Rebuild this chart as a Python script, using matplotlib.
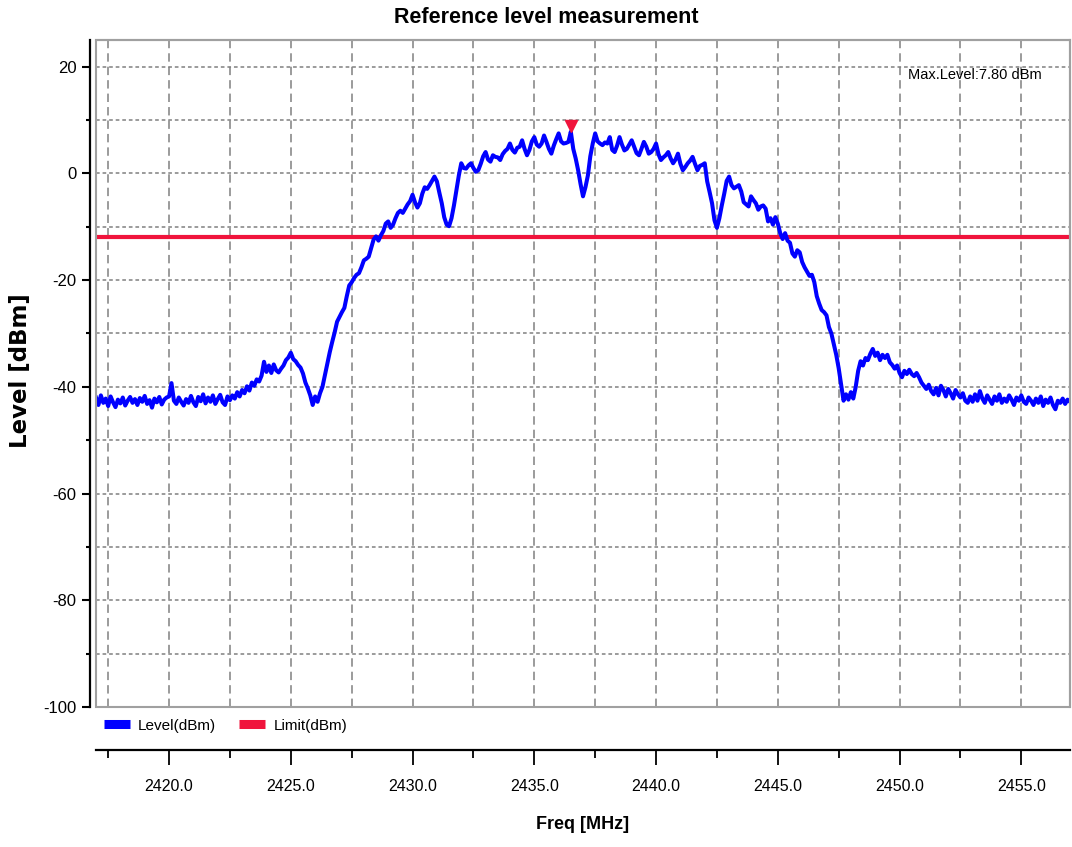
import numpy as np
import matplotlib
matplotlib.use("Agg")
import matplotlib.pyplot as plt
import matplotlib.transforms as mtransforms
from matplotlib.lines import Line2D
from matplotlib.patches import Rectangle
from matplotlib.ticker import MultipleLocator, FormatStrFormatter

plt.rcParams['font.family'] = ['Liberation Sans', 'DejaVu Sans']
plt.rcParams['axes.unicode_minus'] = False

# sweep: 2417.0 MHz .. 2457.0 MHz, 0.1 MHz per point
freq_start = 2417.0
freq_step = 0.1
levels = [
    -42.0, -43.4, -41.6, -43.0, -42.2, -43.6, -41.8, -42.9, -43.8, -42.4,  # 2417
    -43.1, -42.0, -43.5, -42.6, -41.9, -43.0, -42.3, -43.4, -42.1, -42.8,  # 2418
    -41.7, -43.2, -42.5, -43.9, -42.2, -42.9, -41.9, -43.3, -42.4, -42.0,  # 2419
    -41.8, -39.3, -42.6, -43.2, -42.0, -42.8, -43.5, -42.3, -43.0, -41.7,  # 2420
    -42.9, -43.6, -41.9, -42.7, -41.4, -43.1, -42.0, -42.8, -41.6, -43.2,  # 2421
    -42.3, -41.5, -42.9, -43.4, -41.8, -42.5, -41.6, -42.2, -41.0, -41.8,  # 2422
    -40.6, -41.2, -39.9, -40.7, -39.2, -39.8, -38.6, -39.0, -37.9, -35.3,  # 2423
    -37.2, -36.0, -37.4, -35.8, -36.9, -37.3, -36.6, -36.0, -35.0, -34.5,  # 2424
    -33.6, -34.8, -35.2, -35.9, -36.4, -37.5, -39.2, -40.3, -41.6, -43.4,  # 2425
    -41.8, -42.8, -41.2, -40.0, -37.8, -35.6, -33.5, -31.6, -29.8, -27.8,  # 2426
    -26.9, -26.0, -25.2, -23.0, -21.0, -20.4, -19.6, -19.0, -18.7, -17.6,  # 2427
    -16.3, -16.0, -15.6, -14.0, -12.4, -11.8, -12.6, -11.6, -10.8, -9.4,   # 2428
    -9.0, -10.2, -9.6, -8.4, -7.4, -7.0, -7.4, -6.6, -5.8, -5.2,           # 2429
    -4.0, -5.4, -6.4, -5.6, -3.8, -2.6, -2.9, -2.2, -1.4, -0.6,            # 2430
    -1.5, -3.6, -5.6, -8.2, -9.6, -9.9, -8.4, -6.0, -3.2, -0.4,            # 2431
    1.9, 1.0, 0.9, 1.5, 1.9, 1.0, 0.3, 0.6, 1.8, 3.2,                      # 2432
    4.0, 2.6, 2.2, 3.4, 3.1, 3.0, 2.5, 3.6, 4.2, 4.6,                      # 2433
    5.6, 4.4, 3.9, 4.8, 5.0, 6.2, 4.6, 3.4, 4.4, 6.0,                      # 2434
    6.8, 5.4, 5.0, 5.6, 7.1, 5.9, 4.6, 3.7, 5.2, 6.4,                      # 2435
    7.5, 6.0, 5.6, 5.7, 5.9, 7.8, 4.6, 2.8, 0.6, -2.0,                     # 2436
    -4.3, -2.6, -0.4, 3.2, 5.6, 7.5, 6.0, 5.6, 5.3, 5.8,                   # 2437
    5.6, 6.8, 4.4, 4.0, 5.2, 6.8, 5.4, 4.3, 4.6, 5.4,                      # 2438
    6.2, 5.0, 3.8, 3.4, 4.6, 5.9, 5.0, 3.7, 4.0, 4.6,                      # 2439
    5.6, 3.6, 2.5, 3.0, 3.4, 4.0, 2.8, 1.9, 2.6, 3.7,                      # 2440
    1.8, 0.6, 1.2, 1.9, 2.4, 3.1, 1.8, 0.6, 1.4, 1.6,                      # 2441
    1.9, -1.5, -3.5, -5.6, -8.8, -10.2, -8.4, -6.0, -3.8, -1.4,            # 2442
    -0.6, -2.2, -2.8, -2.5, -2.2, -3.4, -5.4, -5.8, -6.2, -4.3,            # 2443
    -5.0, -5.6, -6.8, -6.2, -6.0, -6.6, -9.0, -8.4, -9.6, -8.2,            # 2444
    -9.4, -11.2, -12.3, -11.2, -12.6, -13.0, -15.0, -15.6, -14.4, -14.8,   # 2445
    -16.6, -17.6, -18.4, -19.2, -19.0, -20.4, -23.0, -24.4, -25.6, -26.0,  # 2446
    -26.6, -28.8, -30.0, -32.0, -34.0, -36.5, -39.6, -42.6, -41.4, -42.4,  # 2447
    -41.0, -42.2, -40.0, -37.0, -35.2, -36.0, -34.6, -35.0, -33.8, -32.9,  # 2448
    -34.2, -33.6, -35.0, -34.0, -34.6, -34.0, -35.4, -35.9, -36.6, -36.0,  # 2449
    -37.4, -38.2, -37.0, -37.6, -36.8, -37.6, -38.0, -37.4, -38.2, -39.2,  # 2450
    -39.8, -40.4, -39.6, -40.8, -41.4, -40.2, -41.6, -39.8, -40.6, -41.8,  # 2451
    -40.4, -41.2, -42.2, -40.6, -41.4, -42.0, -41.2, -42.6, -43.0, -41.8,  # 2452
    -42.8, -41.4, -42.6, -40.8, -42.2, -43.0, -41.6, -42.4, -43.2, -41.8,  # 2453
    -42.6, -41.4, -43.0, -42.2, -42.8, -41.6, -42.4, -43.4, -42.0, -42.6,  # 2454
    -41.6, -42.8, -43.2, -42.0, -42.6, -43.4, -42.2, -43.0, -41.8, -43.6,  # 2455
    -42.4, -43.0, -42.0, -43.4, -44.2, -42.6, -43.0, -42.2, -43.2, -42.4,  # 2456
    -42.8,                                                                 # 2457
]
freq = freq_start + freq_step * np.arange(len(levels))

limit_level = -12.0
max_text = "Max.Level:7.80 dBm"

blue = '#0000ff'
red = '#f0143c'
grid_col = '#808080'

fig = plt.figure(figsize=(10.72, 8.47), dpi=100)
ax = fig.add_axes([96 / 1072, 1 - 707 / 847, 974 / 1072, 667 / 847])

ax.plot(freq, levels, color=blue, lw=2.9, zorder=3)
ax.axhline(limit_level, color=red, lw=3.0, zorder=2)

# max marker just above the peak
i = int(np.argmax(levels))
tr = mtransforms.offset_copy(ax.transData, fig=fig, x=0, y=4, units='points')
ax.plot(freq[i], levels[i], marker='v', color=red, ms=9, mec=red, transform=tr, zorder=4)

ax.text(0.834, 0.948, max_text, transform=ax.transAxes, fontsize=10.5, va='center', ha='left')

ax.set_xlim(2417.0, 2457.0)
ax.set_ylim(-100, 25)
ax.xaxis.set_major_locator(MultipleLocator(5))
ax.xaxis.set_minor_locator(MultipleLocator(2.5))
ax.xaxis.set_major_formatter(FormatStrFormatter('%.1f'))
ax.yaxis.set_major_locator(MultipleLocator(20))
ax.yaxis.set_minor_locator(MultipleLocator(10))
ax.yaxis.set_major_formatter(FormatStrFormatter('%d'))

ax.grid(which='both', axis='x', color=grid_col, ls=(0, (5.5, 3.3)), lw=1.1)
ax.grid(which='both', axis='y', color=grid_col, ls=(0, (2.4, 1.9)), lw=1.1)

ax.spines['left'].set_position(('outward', 4.3))
ax.spines['bottom'].set_position(('outward', 31))
for s in ['left', 'bottom']:
    ax.spines[s].set_linewidth(1.6)
    ax.spines[s].set_color('black')
for s in ['top', 'right']:
    ax.spines[s].set_linewidth(1.5)
    ax.spines[s].set_color('#a0a0a0')
ax.add_patch(Rectangle((0, 0), 1, 1, transform=ax.transAxes, fill=False,
                       ec='#a0a0a0', lw=1.5, clip_on=False, zorder=5))

ax.tick_params(axis='y', which='major', length=5.8, width=1.5, pad=4, labelsize=12)
ax.tick_params(axis='y', which='minor', length=3, width=1.5)
ax.tick_params(axis='x', which='major', length=11, width=1.3, pad=10, labelsize=11.5)
ax.tick_params(axis='x', which='minor', length=5.5, width=1.3)

handles = [Line2D([], [], color=blue, lw=6.5, solid_capstyle='butt'),
           Line2D([], [], color=red, lw=6.5, solid_capstyle='butt')]
ax.legend(handles, ['Level(dBm)', 'Limit(dBm)'], loc='upper left',
          bbox_to_anchor=(0.0, -0.006), ncol=2, frameon=False, fontsize=11,
          handlelength=1.7, handletextpad=0.55, columnspacing=1.5,
          borderaxespad=0.1)

fig.text(0.51, 0.979, 'Reference level measurement', ha='center', va='center',
         fontsize=15.5, fontweight='bold')
fig.text(583 / 1072, 0.026, 'Freq [MHz]', ha='center', va='center',
         fontsize=13, fontweight='bold')
fig.text(0.019, 0.563, 'Level [dBm]', ha='center', va='center', rotation=90,
         fontsize=16.5, fontweight='bold', family='DejaVu Sans')

fig.savefig('out.png', dpi=100)
